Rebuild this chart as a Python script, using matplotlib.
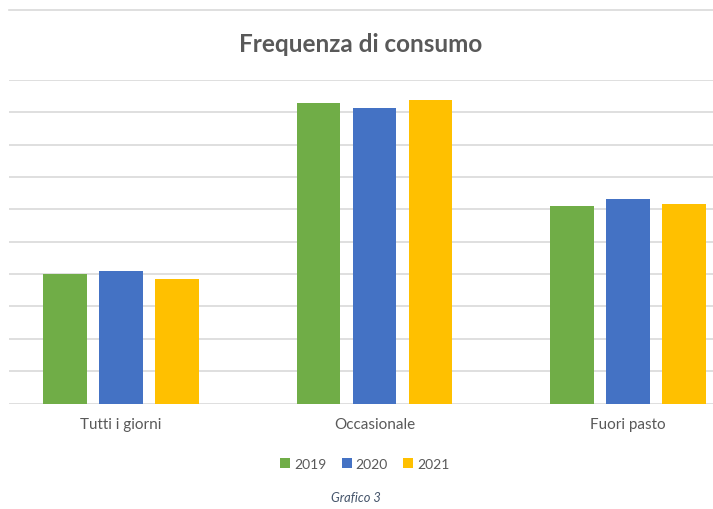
import numpy as np
import matplotlib
matplotlib.use("Agg")
import matplotlib.pyplot as plt
from matplotlib.lines import Line2D

plt.rcParams["font.family"] = ["Lato", "DejaVu Sans"]

categories = ["Tutti i giorni", "Occasionale", "Fuori pasto"]
years = ["2019", "2020", "2021"]
# values (axis 0-50, gridline every 5)
v2019 = [20.0, 46.5, 30.5]
v2020 = [20.5, 45.6, 31.6]
v2021 = [19.3, 46.9, 30.8]
series = [v2019, v2020, v2021]
colors = ["#70AD47", "#4472C4", "#FFC000"]

W, H = 713, 510
fig = plt.figure(figsize=(W / 100, H / 100), dpi=100)
fig.patch.set_facecolor("white")

# axes placed in pixels: gridlines from x=9 to right edge, baseline at 404.5, top grid at 81
ax = fig.add_axes([9 / W, (H - 404.5) / H, (W - 9) / W, (404.5 - 81) / H])

x = np.arange(len(categories))
width = 0.172
pitch = 0.221
for i, (vals, c, lab) in enumerate(zip(series, colors, years)):
    ax.bar(x + (i - 1) * pitch, vals, width=width, color=c, label=lab, zorder=3)

ax.set_ylim(0, 50)
ax.set_yticks(np.arange(0, 51, 5))
ax.set_xlim(-0.442, 2.335)
ax.grid(axis="y", color="#D9D9D9", linewidth=1.2, zorder=0)
for s in ax.spines.values():
    s.set_visible(False)
ax.tick_params(axis="y", left=False, labelleft=False)
ax.tick_params(axis="x", length=0, pad=10, labelsize=11, labelcolor="#595959")
ax.set_xticks(x)
ax.set_xticklabels(categories)

# top border line of the chart frame
fig.add_artist(Line2D([9 / W, 1], [(H - 11) / H] * 2, color="#D9D9D9", linewidth=1.2))

fig.text(361 / W, (H - 44) / H, "Frequenza di consumo", ha="center", va="center",
         fontsize=17.5, fontweight="bold", color="#595959")

handles, labels = ax.get_legend_handles_labels()
fig.legend(handles, labels, loc="center", bbox_to_anchor=(365 / W, (H - 465) / H),
           ncol=3, frameon=False, fontsize=10, labelcolor="#595959",
           handlelength=0.7, handleheight=0.7, handletextpad=0.3, columnspacing=1.1)

fig.text(356 / W, (H - 498) / H, "Grafico 3", ha="center", va="center",
         fontsize=9.3, style="italic", color="#44546A")

fig.savefig("out.png", dpi=100)
